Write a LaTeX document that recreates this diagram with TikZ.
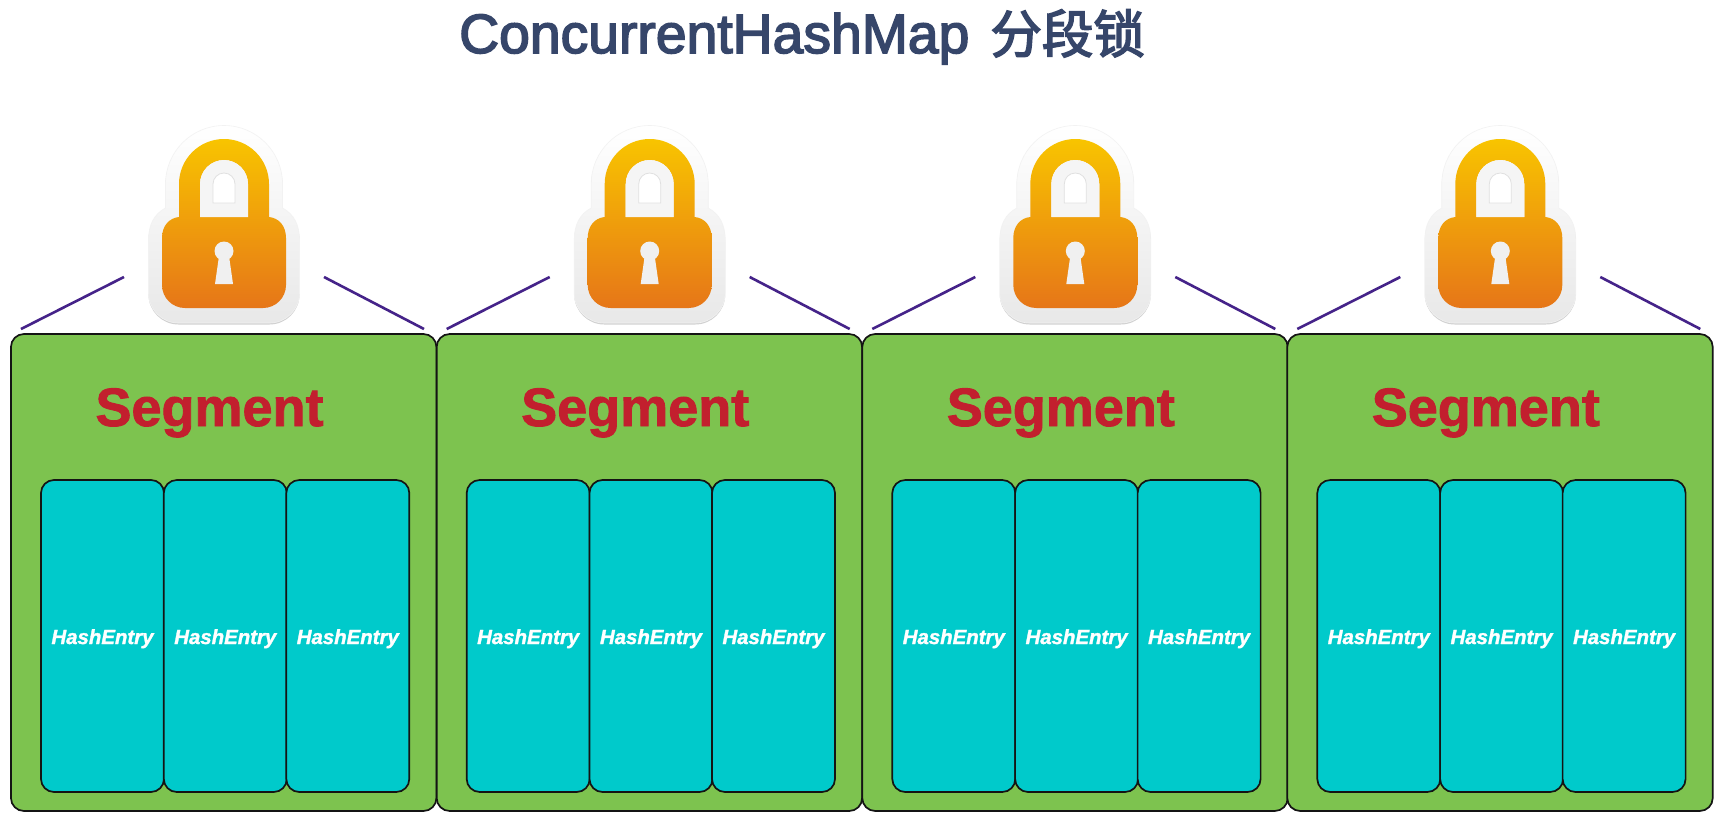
\documentclass[tikz,border=0pt]{standalone}
\usepackage{fontspec}
\setmainfont{Liberation Sans}
\newfontfamily\titlefont[FakeBold=2.8]{Liberation Sans}
\newfontfamily\cjkfont[FakeBold=3]{Noto Sans CJK SC}
\newfontfamily\seglabelfont[FakeBold=1.6]{Liberation Sans Bold}
\newfontfamily\entryfont[FakeBold=1.5]{Liberation Sans Bold Italic}
\definecolor{titlecol}{HTML}{36466A}
\definecolor{segcol}{HTML}{7DC34F}
\definecolor{entrycol}{HTML}{00CACB}
\definecolor{redtxt}{HTML}{C21F2E}
\definecolor{linkcol}{HTML}{452389}
\definecolor{lockhi}{HTML}{F8C400}
\definecolor{locklo}{HTML}{E67618}
\tikzset{
  segbox/.style={draw=black!92,line width=1.7pt,fill=segcol,rounded corners=13pt,minimum width=425.5pt,minimum height=477pt,inner sep=0pt},
  entrybox/.style={draw=black!92,line width=1.7pt,fill=entrycol,rounded corners=13pt,minimum width=123pt,minimum height=312pt,inner sep=0pt,text=white,font=\entryfont\fontsize{20.4}{24}\selectfont,text height=20pt,text depth=4pt},
  seglabel/.style={anchor=base,inner sep=0pt,text=redtxt,font=\seglabelfont\fontsize{54}{60}\selectfont},
  linkline/.style={draw=linkcol,line width=2.6pt},
  lockicon/.pic={
    \def\outerlock{(-58.5,184) arc[start angle=180,end angle=360,radius=58.5] -- (58.5,208) .. controls (70,214) and (75.5,225) .. (75.5,240) -- (75.5,293) arc[start angle=0,end angle=90,radius=30] -- (-45.5,323) arc[start angle=90,end angle=180,radius=30] -- (-75.5,240) .. controls (-75.5,225) and (-70,214) .. (-58.5,208) -- cycle}
    \fill[black!18,yshift=-1.5pt] \outerlock;
    \shade[top color=white,bottom color=black!9,draw=black!5,line width=.6pt] \outerlock;
    \shade[top color=lockhi,bottom color=locklo,even odd rule]
      (-45,184) arc[start angle=180,end angle=360,radius=45] -- (45,217) .. controls (55,218) and (62,226) .. (62,238) -- (62,285) arc[start angle=0,end angle=90,radius=23] -- (-39,308) arc[start angle=90,end angle=180,radius=23] -- (-62,238) .. controls (-62,226) and (-55,218) .. (-45,217) -- cycle
      (-24,217) -- (-24,184) arc[start angle=180,end angle=360,radius=24] -- (24,217) -- cycle;
    \fill[black!4] (-24,217) -- (-24,184) arc[start angle=180,end angle=360,radius=24] -- (24,217) -- cycle;
    \draw[black!12,fill=white,line width=.8pt] (-11,203) -- (-11,184) arc[start angle=180,end angle=360,radius=11] -- (11,203) -- cycle;
    \fill[black!6] (0,251) circle[radius=9.5];
    \fill[black!6] (-5,256) -- (-9,284) -- (9,284) -- (5,256) -- cycle;
  }
}
\begin{document}
\begin{tikzpicture}[x=1pt,y=-1pt]
\useasboundingbox (0,0) rectangle (1725,833);
\fill[white] (0,0) rectangle (1725,833);
\node[anchor=base west,inner sep=0pt,text=titlecol] (title) at (459,53) {\fontsize{55.3}{60}\selectfont\titlefont ConcurrentHashMap\hspace{21pt}\fontsize{51.5}{60}\selectfont\cjkfont 分段锁};
\foreach \i/\dx in {1/0,2/425.7,3/851.3,4/1276.3}{
  \pic at (224+\dx,0) {lockicon};
  \coordinate (la\i) at (124+\dx,277);
  \coordinate (lb\i) at (21+\dx,329);
  \coordinate (ra\i) at (324+\dx,277);
  \coordinate (rb\i) at (424+\dx,329);
  \draw[linkline] (la\i) -- (lb\i);
  \draw[linkline] (ra\i) -- (rb\i);
  \node[segbox] (seg\i) at (223.7+\dx,572.5) {};
  \node[seglabel] (segl\i) at (209.5+\dx,426) {Segment};
}
\foreach \i/\dx in {1/0,2/425.7,3/851.3,4/1276.3}{
  \foreach \j/\ex in {1/102.5,2/225.3,3/347.8}{
    \node[entrybox] (e\i\j) at (\ex+\dx,636) {HashEntry};
  }
}
\end{tikzpicture}
\end{document}
